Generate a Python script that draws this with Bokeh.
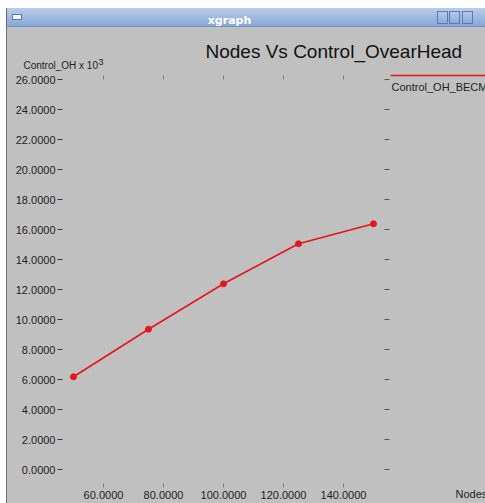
from bokeh.plotting import figure
from bokeh.models import Range1d, LinearAxis, FixedTicker, PrintfTickFormatter
from bokeh.core.properties import value
from bokeh.embed import file_html
from bokeh.resources import INLINE

# ---- data ----
nodes = [50, 75, 100, 125, 150]
control_oh = [6.18, 9.35, 12.38, 15.05, 16.38]
x_ticks = [60, 80, 100, 120, 140]
y_ticks = [0, 2, 4, 6, 8, 10, 12, 14, 16, 18, 20, 22, 24, 26]
series_name = "Control_OH_BECM"
title_text = "Nodes Vs Control_OvearHead"
x_label = "Nodes"
y_label = "Control_OH x 10"
y_exp = "3"
window_title = "xgraph"

GRAY = "#c0c0c0"
RED = "#e8141c"
W, H = 485, 503
FONT = "Liberation Sans"

# frame placement (pixels) and the data extents it shows
F_LEFT, F_RIGHT, F_TOP, F_BOTTOM = 62, 386, 79, 483
X0, X1 = 46.3333, 154.3333
Y0, Y1 = -0.9333, 26.0


def X(px):  # canvas pixel -> data x
    return X0 + (px - F_LEFT) * (X1 - X0) / (F_RIGHT - F_LEFT)


def Y(py):  # canvas pixel -> data y
    return Y0 + (F_BOTTOM - py) * (Y1 - Y0) / (F_BOTTOM - F_TOP)


def solid(c, x, y, w, h):
    return f"linear-gradient({c},{c}) {x}px {y}px/{w} {h} no-repeat"


layers = [
    solid("#ffffff", 0, 0, "100%", "8px"),
    solid("#ffffff", 0, 0, "6px", "100%"),
    solid("#6e6e6e", 6, 8, "1px", "100%"),
    solid("#f4f7fc", 13, 15, "8px", "4px"),
    solid("#5a7bb0", 12, 14, "10px", "6px"),
]
for bx in (437, 449, 462):
    layers.append(f"linear-gradient(#b3c8ea,#8eaadb) {bx+1}px 12px/9px 11px no-repeat")
    layers.append(solid("#5a7bb0", bx, 11, "11px", "13px"))
layers += [
    solid("#7090c4", 7, 26, "100%", "1px"),
    "linear-gradient(#b9ccea,#86a5d6) 7px 8px/100% 19px no-repeat",
    GRAY,
]

p = figure(width=W, height=H,
           x_range=Range1d(X0, X1), y_range=Range1d(Y0, Y1),
           toolbar_location=None, output_backend="svg",
           x_axis_location=None, y_axis_location=None,
           min_border_left=F_LEFT, min_border_right=W - F_RIGHT,
           min_border_top=F_TOP, min_border_bottom=H - F_BOTTOM,
           background_fill_color=None, border_fill_color=None, outline_line_color=None,
           styles={"background": ", ".join(layers)})
p.grid.visible = False

left = LinearAxis(ticker=FixedTicker(ticks=y_ticks), formatter=PrintfTickFormatter(format="%.4f"),
                  axis_line_color=None, major_tick_out=5, major_tick_in=0,
                  minor_tick_line_color=None, major_tick_line_color="#3a3a3a",
                  major_label_standoff=2, major_label_text_font=FONT,
                  major_label_text_font_size="11px", major_label_text_color="#222222")
p.add_layout(left, "left")

bottom = LinearAxis(ticker=FixedTicker(ticks=x_ticks), formatter=PrintfTickFormatter(format="%.4f"),
                    axis_line_color=None, major_tick_out=4, major_tick_in=0,
                    minor_tick_line_color=None, major_tick_line_color="#7a7a7a",
                    major_label_standoff=3, major_label_text_font=FONT,
                    major_label_text_font_size="11px", major_label_text_color="#222222")
p.add_layout(bottom, "below")

top = LinearAxis(ticker=FixedTicker(ticks=x_ticks), axis_line_color=None,
                 major_tick_out=4, major_tick_in=0, minor_tick_line_color=None,
                 major_tick_line_color="#7a7a7a",
                 major_label_overrides={t: "" for t in x_ticks})
p.add_layout(top, "above")

right = LinearAxis(ticker=FixedTicker(ticks=y_ticks), axis_line_color=None,
                   major_tick_out=3, major_tick_in=2, minor_tick_line_color=None,
                   major_tick_line_color="#555555",
                   major_label_overrides={t: "" for t in y_ticks})
p.add_layout(right, "right")

# data series
p.line(nodes, control_oh, line_color=RED, line_width=1.6)
p.scatter(nodes, control_oh, size=6, fill_color=RED, line_color=RED)


def txt(px, py, s, size, color="#1e1e1e", font=FONT, style="normal", align="left"):
    p.text(x=[X(px)], y=[Y(py)], text=[s], text_font=value(font), text_font_size=size,
           text_font_style=style, text_color=color, text_align=align,
           text_baseline="alphabetic", level="annotation")


# texts outside the frame (annotation level, so not clipped to the frame)
txt(229, 20, window_title, "11px", color="white", font="DejaVu Sans", style="bold", align="center")
txt(205, 51, title_text, "19px", color="#111111")
txt(23, 65, y_label, "10px")
txt(98, 61, y_exp, "9px")
txt(391, 86, series_name, "11px")
txt(455, 493, x_label, "11px")

# legend key line for the series
p.segment(x0=[X(390)], y0=[Y(75)], x1=[X(W)], y1=[Y(75)], line_color=RED, line_width=1.4,
          level="annotation")

open("out.html", "w").write(file_html(p, INLINE))
